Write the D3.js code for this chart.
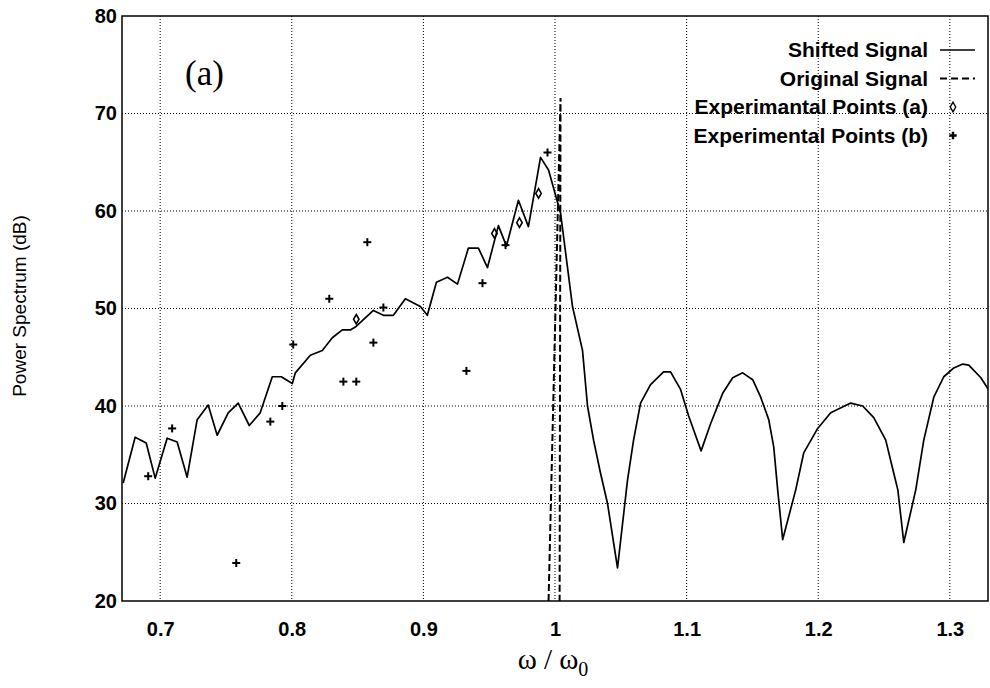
<!DOCTYPE html>
<html>
<head>
<meta charset="utf-8">
<script src="https://cdn.jsdelivr.net/npm/d3@7"></script>
<style>
  html, body { margin: 0; padding: 0; background: #fff; }
  #chart { width: 990px; height: 688px; }
  .grid line { stroke: #000; stroke-width: 1; stroke-dasharray: 1,2; }
  .axis path, .axis line { display: none; }
  .axis text { font-family: 'Liberation Sans', Arial, sans-serif; font-size: 20px; font-weight: bold; fill: #000; }
  .legend text { font-family: 'Liberation Sans', Arial, sans-serif; font-size: 21px; font-weight: bold; fill: #000; }
</style>
</head>
<body>
<div id="chart"></div>
<script>
// shifted signal
var shiftedOmega = [0.6719, 0.6810, 0.6894, 0.6962, 0.7053, 0.7129, 0.7205, 0.7281, 0.7365, 0.7433,
  0.7517, 0.7593, 0.7677, 0.7760, 0.7852, 0.7920, 0.8004, 0.8027, 0.8141, 0.8232,
  0.8308, 0.8384, 0.8445, 0.8483, 0.8620, 0.8696, 0.8772, 0.8863, 0.8977, 0.9030,
  0.9099, 0.9183, 0.9259, 0.9342, 0.9418, 0.9487, 0.9570, 0.9631, 0.9722, 0.9798,
  0.9890, 0.9951, 1.0042, 1.0133, 1.0209, 1.0247, 1.0293, 1.0346, 1.0399, 1.0475,
  1.0551, 1.0597, 1.0650, 1.0726, 1.0825, 1.0878, 1.0954, 1.1015, 1.1110, 1.1183,
  1.1274, 1.1350, 1.1426, 1.1502, 1.1563, 1.1624, 1.1662, 1.1692, 1.1730, 1.1829,
  1.1890, 1.1996, 1.2095, 1.2247, 1.2338, 1.2422, 1.2513, 1.2574, 1.2605, 1.2650,
  1.2741, 1.2802, 1.2878, 1.2954, 1.3030, 1.3099, 1.3144, 1.3236, 1.3312];
var shiftedDb = [32.1, 36.8, 36.2, 32.6, 36.7, 36.3, 32.7, 38.6, 40.1, 37.0,
  39.3, 40.3, 38.0, 39.3, 43.0, 43.0, 42.3, 43.4, 45.2, 45.7,
  47.0, 47.8, 47.8, 48.1, 49.8, 49.3, 49.3, 51.0, 50.2, 49.3,
  52.7, 53.2, 52.5, 56.2, 56.2, 54.2, 58.5, 56.4, 61.1, 58.4,
  65.5, 64.2, 59.8, 50.2, 45.7, 40.0, 36.5, 33.1, 30.0, 23.4,
  32.4, 36.5, 40.3, 42.2, 43.5, 43.5, 41.7, 39.0, 35.4, 38.2,
  41.3, 42.9, 43.4, 42.7, 40.9, 38.6, 35.8, 31.4, 26.3, 31.4,
  35.2, 37.7, 39.3, 40.3, 40.0, 38.8, 36.5, 33.1, 31.4, 26.0,
  31.4, 36.5, 40.9, 43.0, 43.9, 44.3, 44.2, 42.9, 41.3];

// original signal: a narrow spike at 1
var originalOmega = [0.9951, 1.0042, 1.0035];
var originalDb = [20, 71.6, 20];

var expAOmega = [0.8490, 0.9540, 0.9730, 0.9875];
var expADb = [48.9, 57.7, 58.8, 61.8];

var expBOmega = [0.6909, 0.7091, 0.7578, 0.7837, 0.7928, 0.8011, 0.8285, 0.8392, 0.8490, 0.8574,
  0.8620, 0.8696, 0.9327, 0.9449, 0.9624, 0.9943];
var expBDb = [32.8, 37.7, 23.9, 38.4, 40.0, 46.3, 51.0, 42.5, 42.5, 56.8,
  46.5, 50.1, 43.6, 52.6, 56.5, 66.0];

var xTicks = [0.7, 0.8, 0.9, 1, 1.1, 1.2, 1.3];
var yTicks = [20, 30, 40, 50, 60, 70, 80];

var legendLabels = ['Shifted Signal', 'Original Signal', 'Experimantal Points (a)', 'Experimental Points (b)'];

// plot frame in pixels (note: "top" is taken by window.top)
var frameL = 122, frameT = 16, frameR = 988, frameB = 601;

var x = d3.scaleLinear().domain([0.671, 1.329]).range([frameL, frameR]);
var y = d3.scaleLinear().domain([20, 80]).range([frameB, frameT]);

var svg = d3.select('#chart').append('svg')
  .attr('width', 990)
  .attr('height', 688);

svg.append('defs').append('clipPath')
  .attr('id', 'plot-clip')
  .append('rect')
  .attr('x', frameL).attr('y', frameT)
  .attr('width', frameR - frameL).attr('height', frameB - frameT);

// dotted grid
var grid = svg.append('g').attr('class', 'grid');
grid.selectAll('.vgrid')
  .data(xTicks)
  .enter().append('line')
  .attr('class', 'vgrid')
  .attr('x1', function (d) { return x(d); })
  .attr('x2', function (d) { return x(d); })
  .attr('y1', frameT).attr('y2', frameB);
grid.selectAll('.hgrid')
  .data(yTicks.slice(1, -1))
  .enter().append('line')
  .attr('class', 'hgrid')
  .attr('x1', frameL).attr('x2', frameR)
  .attr('y1', function (d) { return y(d); })
  .attr('y2', function (d) { return y(d); });

var xAxis = d3.axisBottom(x)
  .tickValues(xTicks)
  .tickSize(0)
  .tickPadding(21)
  .tickFormat(function (d) { return String(d); });

var yAxis = d3.axisLeft(y)
  .tickValues(yTicks)
  .tickSize(0)
  .tickPadding(5);

svg.append('g').attr('class', 'x axis')
  .attr('transform', 'translate(0,' + frameB + ')')
  .call(xAxis);

svg.append('g').attr('class', 'y axis')
  .attr('transform', 'translate(' + frameL + ',0)')
  .call(yAxis);

var plot = svg.append('g').attr('clip-path', 'url(#plot-clip)');

var line = d3.line()
  .x(function (d) { return x(d[0]); })
  .y(function (d) { return y(d[1]); });

plot.append('path')
  .datum(d3.zip(originalOmega, originalDb))
  .attr('d', line)
  .attr('fill', 'none')
  .attr('stroke', '#000')
  .attr('stroke-width', 2)
  .attr('stroke-dasharray', '7,3');

plot.append('path')
  .datum(d3.zip(shiftedOmega, shiftedDb))
  .attr('d', line)
  .attr('fill', 'none')
  .attr('stroke', '#000')
  .attr('stroke-width', 1.7)
  .attr('stroke-linejoin', 'round');

var diamond = d3.symbol().type(d3.symbolDiamond).size(26);
var plus = d3.symbol().type(d3.symbolCross).size(30);

plot.selectAll('.expA')
  .data(d3.zip(expAOmega, expADb))
  .enter().append('path')
  .attr('class', 'expA')
  .attr('d', diamond)
  .attr('transform', function (d) { return 'translate(' + x(d[0]) + ',' + y(d[1]) + ')'; })
  .attr('fill', 'none')
  .attr('stroke', '#000')
  .attr('stroke-width', 1.6);

plot.selectAll('.expB')
  .data(d3.zip(expBOmega, expBDb))
  .enter().append('g')
  .attr('class', 'expB')
  .attr('transform', function (d) { return 'translate(' + x(d[0]) + ',' + y(d[1]) + ')'; })
  .each(function () {
    var g = d3.select(this);
    g.append('line').attr('x1', -4).attr('x2', 4).attr('y1', 0).attr('y2', 0);
    g.append('line').attr('x1', 0).attr('x2', 0).attr('y1', -4).attr('y2', 4);
  })
  .selectAll('line')
  .attr('stroke', '#000')
  .attr('stroke-width', 2);

// frame
svg.append('rect')
  .attr('x', frameL).attr('y', frameT)
  .attr('width', frameR - frameL).attr('height', frameB - frameT)
  .attr('fill', 'none')
  .attr('stroke', '#000')
  .attr('stroke-width', 1.5);

// legend
var legend = svg.append('g').attr('class', 'legend');
var legendRow = function (i) { return 50 + i * 28.5; };

legend.selectAll('text')
  .data(legendLabels)
  .enter().append('text')
  .attr('x', 928)
  .attr('y', function (d, i) { return legendRow(i); })
  .attr('dy', '0.35em')
  .attr('text-anchor', 'end')
  .text(function (d) { return d; });

legend.append('line')
  .attr('x1', 940).attr('x2', 975)
  .attr('y1', legendRow(0)).attr('y2', legendRow(0))
  .attr('stroke', '#000').attr('stroke-width', 1.5);
legend.append('line')
  .attr('x1', 940).attr('x2', 975)
  .attr('y1', legendRow(1)).attr('y2', legendRow(1))
  .attr('stroke', '#000').attr('stroke-width', 2)
  .attr('stroke-dasharray', '7,4');
legend.append('path')
  .attr('d', diamond)
  .attr('transform', 'translate(953,' + legendRow(2) + ')')
  .attr('fill', 'none').attr('stroke', '#000').attr('stroke-width', 1.4);
legend.append('path')
  .attr('d', plus)
  .attr('transform', 'translate(953,' + legendRow(3) + ')')
  .attr('fill', '#000');

// axis titles
svg.append('text')
  .attr('transform', 'translate(26,306) rotate(-90)')
  .attr('text-anchor', 'middle')
  .style('font-family', "'Liberation Sans', Arial, sans-serif")
  .style('font-size', '19px')
  .text('Power Spectrum (dB)');

var xTitle = svg.append('text')
  .attr('x', 553)
  .attr('y', 669)
  .attr('text-anchor', 'middle')
  .style('font-family', "'Liberation Serif', 'Times New Roman', serif")
  .style('font-size', '29px');
xTitle.append('tspan').text('\u03c9 / \u03c9');
xTitle.append('tspan').attr('dy', 7).style('font-size', '20px').text('0');

svg.append('text')
  .attr('x', 185)
  .attr('y', 85)
  .style('font-family', "'Liberation Serif', 'Times New Roman', serif")
  .style('font-size', '35px')
  .text('(a)');
</script>
</body>
</html>
